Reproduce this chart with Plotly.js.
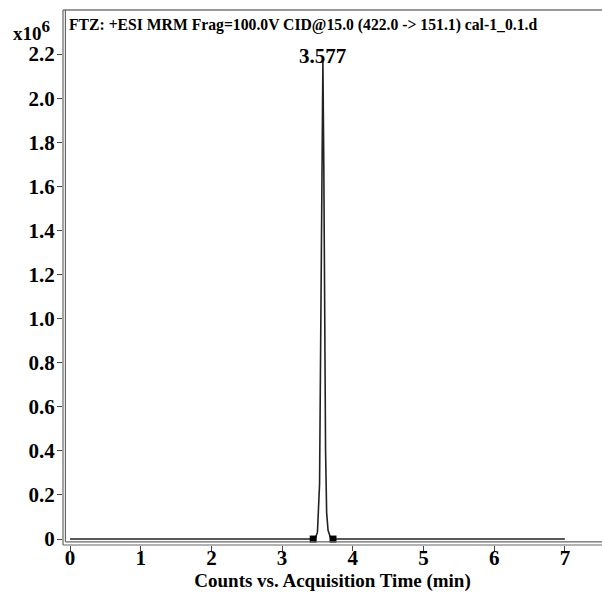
<!DOCTYPE html>
<html>
<head>
<meta charset="utf-8">
<script src="https://cdn.plot.ly/plotly-3.0.1.min.js"></script>
<style>html,body{margin:0;padding:0;background:#fff;overflow:hidden}#chart{width:602px;height:592px}</style>
</head>
<body>
<div id="chart"></div>
<script>
// Chromatogram (counts in units of 10^6)
const times  = [0, 3.44, 3.47, 3.50, 3.53, 3.55, 3.565, 3.577, 3.59, 3.60, 3.615, 3.63, 3.65, 3.68, 3.72, 7.0];
const counts = [0, 0, 0.004, 0.03, 0.25, 1.0, 1.9, 2.17, 1.7, 1.0, 0.4, 0.12, 0.04, 0.01, 0, 0];
const integTimes  = [3.44, 3.72];
const integCounts = [0, 0];
const peakTime = 3.577;
const peakHeight = 2.17;
const peakLabel = "3.577";
const xTicks = [0, 1, 2, 3, 4, 5, 6, 7];
const yTicks = [0, 0.2, 0.4, 0.6, 0.8, 1.0, 1.2, 1.4, 1.6, 1.8, 2.0, 2.2];
const yTickText = ["0", "0.2", "0.4", "0.6", "0.8", "1.0", "1.2", "1.4", "1.6", "1.8", "2.0", "2.2"];
const titleText = "FTZ: +ESI MRM Frag=100.0V CID@15.0 (422.0 -> 151.1) cal-1_0.1.d";
const xTitle = "Counts vs. Acquisition Time (min)";

const F = "Liberation Serif, Times New Roman, serif";

const traces = [
  {x: times, y: counts, type: 'scatter', mode: 'lines',
   line: {color: '#222', width: 1.6}, hoverinfo: 'skip'},
  {x: integTimes, y: integCounts, type: 'scatter', mode: 'markers',
   marker: {symbol: 'square', size: 7, color: '#000'}, hoverinfo: 'skip'}
];

const layout = {
  width: 602, height: 592,
  margin: {l: 63, r: 0, t: 10, b: 47},
  paper_bgcolor: '#fff', plot_bgcolor: '#fff',
  showlegend: false,
  font: {family: F, color: '#000'},
  xaxis: {
    range: [-0.099, 7.525], tickvals: xTicks, ticktext: xTicks.map(String),
    ticks: 'outside', ticklen: 5, tickcolor: '#444', tickwidth: 1,
    ticklabelstandoff: -11,
    showgrid: false, zeroline: false, showline: false, automargin: false,
    tickfont: {family: F, size: 21, weight: 'bold', color: '#000'},
    title: {text: xTitle, font: {family: F, size: 19, weight: 'bold', color: '#000'}, standoff: 0}
  },
  yaxis: {
    range: [-0.027, 2.4], tickvals: yTicks, ticktext: yTickText,
    ticks: 'outside', ticklen: 5, tickcolor: '#444', tickwidth: 1,
    ticklabelstandoff: -2,
    showgrid: false, zeroline: false, showline: false, automargin: false,
    tickfont: {family: F, size: 21, weight: 'bold', color: '#000'}
  },
  shapes: [
    {type: 'line', xref: 'paper', yref: 'paper', x0: 0, x1: 1, y0: 1, y1: 1, line: {color: '#777', width: 1.5}},
    {type: 'line', xref: 'paper', yref: 'paper', x0: 0, x1: 0, y0: 0, y1: 1, line: {color: '#666', width: 1.2}},
    {type: 'line', xref: 'paper', yref: 'paper', x0: 0.0045, x1: 0.0045, y0: 0.006, y1: 1, line: {color: '#666', width: 1.2}},
    {type: 'line', xref: 'paper', yref: 'paper', x0: 0, x1: 1, y0: 0, y1: 0, line: {color: '#666', width: 1.2}},
    {type: 'line', xref: 'paper', yref: 'paper', x0: 0.0045, x1: 1, y0: 0.006, y1: 0.006, line: {color: '#666', width: 1.2}}
  ],
  annotations: [
    {xref: 'paper', yref: 'paper', x: 0.007, y: 0.993, xanchor: 'left', yanchor: 'top', showarrow: false,
     text: titleText, font: {family: F, size: 15.7, weight: 'bold', color: '#000'}},
    {x: peakTime, y: peakHeight, xref: 'x', yref: 'y', yanchor: 'bottom', showarrow: false, yshift: -9,
     text: peakLabel, font: {family: F, size: 21, weight: 'bold', color: '#000'}},
    {xref: 'paper', yref: 'paper', x: -0.097, y: 0.932, xanchor: 'left', yanchor: 'bottom', showarrow: false,
     text: 'x10<sup><span style="font-size:17px">6</span></sup>', font: {family: F, size: 19, weight: 'bold', color: '#000'}}
  ]
};

Plotly.newPlot('chart', traces, layout, {displayModeBar: false, staticPlot: true});
</script>
</body>
</html>
